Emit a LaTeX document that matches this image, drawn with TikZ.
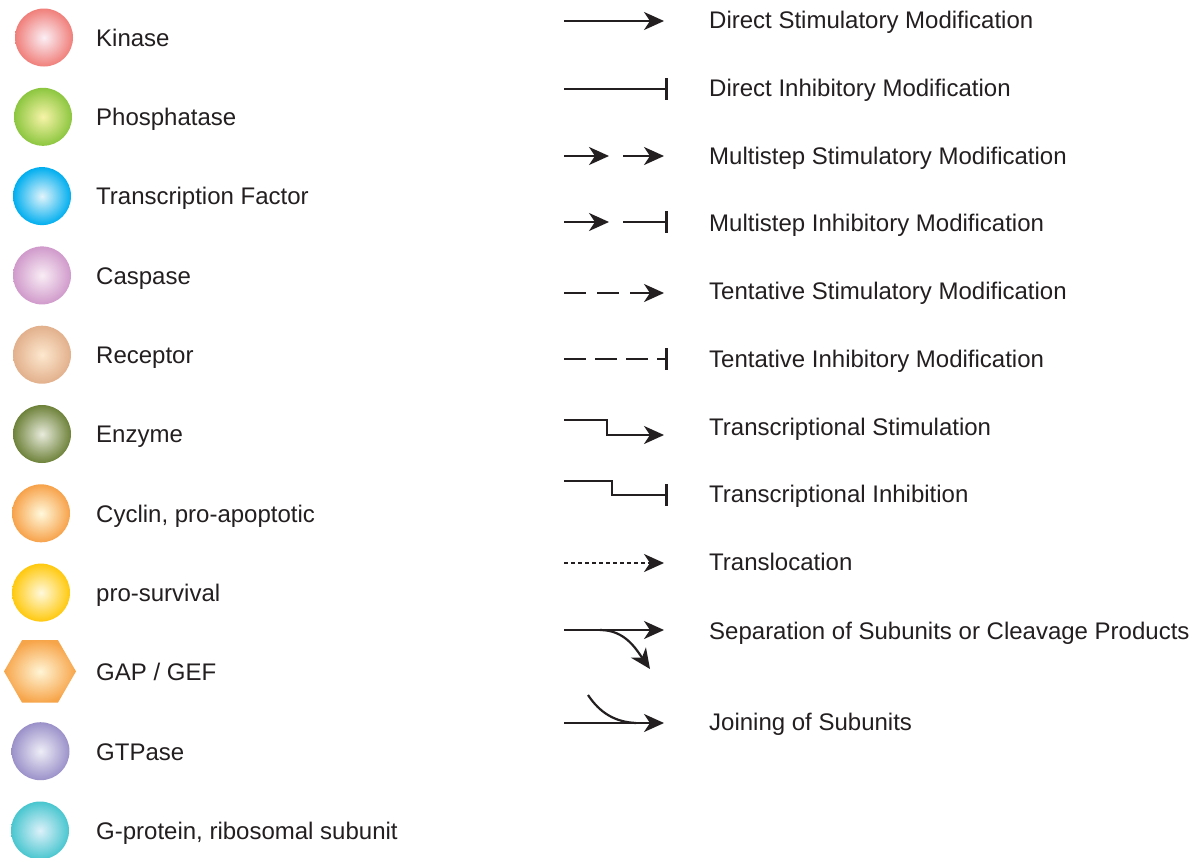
\documentclass[tikz,border=0pt]{standalone}
\usepackage{fontspec}
\setmainfont{Liberation Sans}
\usetikzlibrary{arrows.meta,shapes.geometric}
\definecolor{kinE}{HTML}{F07F7A}\definecolor{kinC}{HTML}{FBEFF5}
\definecolor{phoE}{HTML}{8CC63F}\definecolor{phoC}{HTML}{F7F4A8}
\definecolor{tfE}{HTML}{00AEEF}\definecolor{tfC}{HTML}{E2F4FB}
\definecolor{casE}{HTML}{D09ACB}\definecolor{casC}{HTML}{F9EDF5}
\definecolor{recE}{HTML}{E2B08C}\definecolor{recC}{HTML}{FDE8CF}
\definecolor{enzE}{HTML}{6E823A}\definecolor{enzC}{HTML}{E8EBDC}
\definecolor{cycE}{HTML}{F7A24A}\definecolor{cycC}{HTML}{FFF9DC}
\definecolor{proE}{HTML}{FFC90E}\definecolor{proC}{HTML}{FFF9DD}
\definecolor{gapE}{HTML}{F7A54A}\definecolor{gapC}{HTML}{FFF5D6}
\definecolor{gtpE}{HTML}{9B91C9}\definecolor{gtpC}{HTML}{EEEEF7}
\definecolor{gprE}{HTML}{49C6CF}\definecolor{gprC}{HTML}{DDF1FA}
\definecolor{ink}{HTML}{231F20}
\tikzset{
  ball/.style={circle, minimum size=58pt, inner sep=0pt, draw=none},
  hexa/.style={regular polygon, regular polygon sides=6, minimum size=72pt, inner sep=0pt, draw=none},
  lbl/.style={anchor=base west, inner sep=0pt, font=\fontsize{24}{28}\selectfont, text=ink},
  conn/.style={draw=ink, line width=2.2pt, line join=miter},
  stim/.style={conn, -{Stealth[length=20pt, width=18pt, inset=6pt]}},
  inhib/.style={conn, -{Bar[width=22pt, line width=2.6pt]}},
  tent/.style={dash pattern=on 22pt off 11pt},
  tenti/.style={dash pattern=on 22pt off 9pt},
  transl/.style={dash pattern=on 4pt off 3pt}
}
\begin{document}
\begin{tikzpicture}[x=1pt,y=-1pt]
\useasboundingbox[fill=white] (0,0) rectangle (1193,857);
% left column: shapes
\node[ball, shade, inner color=kinC, outer color=kinE] (kin) at (44,37.5) {};
\node[ball, shade, inner color=phoC, outer color=phoE] (pho) at (43,116.8) {};
\node[ball, shade, inner color=tfC, outer color=tfE] (tf) at (42,196.1) {};
\node[ball, shade, inner color=casC, outer color=casE] (cas) at (42,275.4) {};
\node[ball, shade, inner color=recC, outer color=recE] (rec) at (42,354.7) {};
\node[ball, shade, inner color=enzC, outer color=enzE] (enz) at (42,434) {};
\node[ball, shade, inner color=cycC, outer color=cycE] (cyc) at (41,513.3) {};
\node[ball, shade, inner color=proC, outer color=proE] (pro) at (41,592.6) {};
\node[hexa, shade, inner color=gapC, outer color=gapE] (gap) at (40,671.4) {};
\node[ball, shade, inner color=gtpC, outer color=gtpE] (gtp) at (40.5,751.2) {};
\node[ball, shade, inner color=gprC, outer color=gprE] (gpr) at (40,830.5) {};
% left column: labels
\node[lbl] (tkin) at (96,46.3) {Kinase};
\node[lbl] (tpho) at (96,125.6) {Phosphatase};
\node[lbl] (ttf) at (96,204.9) {Transcription Factor};
\node[lbl] (tcas) at (96,284.2) {Caspase};
\node[lbl] (trec) at (96,363.5) {Receptor};
\node[lbl] (tenz) at (96,442.8) {Enzyme};
\node[lbl] (tcyc) at (96,522.1) {Cyclin, pro-apoptotic};
\node[lbl] (tpro) at (96,601.4) {pro-survival};
\node[lbl] (tgap) at (96,680.7) {GAP / GEF};
\node[lbl] (tgtp) at (96,760) {GTPase};
\node[lbl] (tgpr) at (96,839.3) {G-protein, ribosomal subunit};
% right column: labels
\node[lbl] (r1) at (709,28.6) {Direct Stimulatory Modification};
\node[lbl] (r2) at (709,96.6) {Direct Inhibitory Modification};
\node[lbl] (r3) at (709,164.6) {Multistep Stimulatory Modification};
\node[lbl] (r4) at (709,231.6) {Multistep Inhibitory Modification};
\node[lbl] (r5) at (709,299.6) {Tentative Stimulatory Modification};
\node[lbl] (r6) at (709,367.6) {Tentative Inhibitory Modification};
\node[lbl] (r7) at (709,435.6) {Transcriptional Stimulation};
\node[lbl] (r8) at (709,502.6) {Transcriptional Inhibition};
\node[lbl] (r9) at (709,570.6) {Translocation};
\node[lbl] (r10) at (709,639.6) {Separation of Subunits or Cleavage Products};
\node[lbl] (r11) at (709,730.6) {Joining of Subunits};
% right column: connector samples
\coordinate (a1s) at (564,21); \coordinate (a1e) at (664,21);
\draw[stim] (a1s) -- (a1e);
\coordinate (a2s) at (564,89); \coordinate (a2e) at (668,89);
\draw[inhib] (a2s) -- (a2e);
\coordinate (a3s) at (564,156); \coordinate (a3m) at (609,156);
\coordinate (a3n) at (623,156); \coordinate (a3e) at (664,156);
\draw[stim] (a3s) -- (a3m);
\draw[stim] (a3n) -- (a3e);
\coordinate (a4s) at (564,222); \coordinate (a4m) at (609,222);
\coordinate (a4n) at (623,222); \coordinate (a4e) at (668,222);
\draw[stim] (a4s) -- (a4m);
\draw[inhib] (a4n) -- (a4e);
\coordinate (a5s) at (564,293); \coordinate (a5e) at (664,293);
\draw[stim, tent] (a5s) -- (a5e);
\coordinate (a6s) at (564,359); \coordinate (a6e) at (668,359);
\draw[inhib, tenti] (a6s) -- (a6e);
\coordinate (a7s) at (564,420); \coordinate (a7e) at (664,435);
\draw[stim] (a7s) -- (607,420) -- (607,435) -- (a7e);
\coordinate (a8s) at (564,481); \coordinate (a8e) at (668,495);
\draw[inhib] (a8s) -- (612,481) -- (612,495) -- (a8e);
\coordinate (a9s) at (564,563); \coordinate (a9e) at (664,563);
\draw[stim, transl] (a9s) -- (a9e);
\coordinate (a10s) at (564,630); \coordinate (a10e) at (664,630);
\coordinate (a10b) at (600,630); \coordinate (a10t) at (650,669);
\draw[stim] (a10s) -- (a10e);
\draw[stim] (a10b) .. controls (625,630) and (636,649) .. (a10t);
\coordinate (a11s) at (564,723); \coordinate (a11e) at (664,723);
\coordinate (a11b) at (588,695); \coordinate (a11j) at (636,723);
\draw[stim] (a11s) -- (a11e);
\draw[conn] (a11b) .. controls (600,713) and (615,722) .. (a11j);
\end{tikzpicture}
\end{document}
